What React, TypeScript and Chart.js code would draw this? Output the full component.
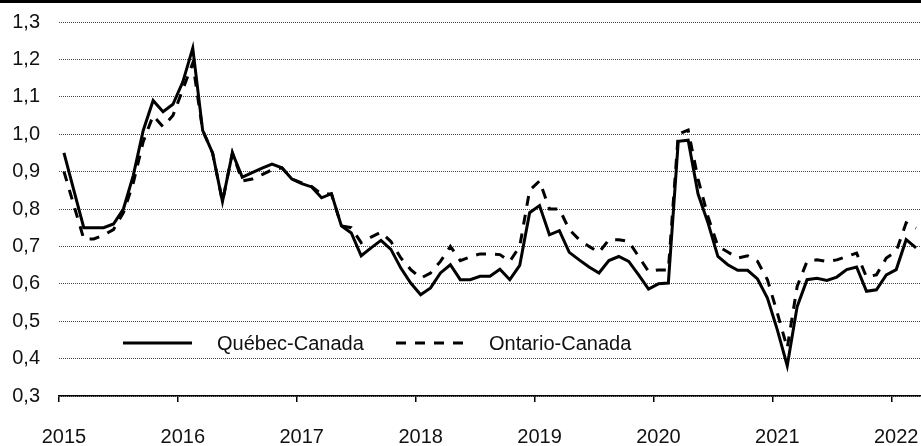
import { useEffect, useRef } from 'react';
import { Chart, registerables } from 'chart.js';

Chart.register(...registerables);

// Monthly values, January 2015 to March 2022
const quebecCanada = [
  0.95, 0.85, 0.75, 0.75, 0.75, 0.76, 0.80, 0.89, 1.01, 1.09, 1.06, 1.08,
  1.14, 1.23, 1.01, 0.95, 0.82, 0.95, 0.885, 0.897, 0.909, 0.92, 0.91, 0.88,
  0.868, 0.859, 0.83, 0.841, 0.755, 0.736, 0.675, 0.696, 0.716, 0.692, 0.642, 0.602,
  0.571, 0.589, 0.629, 0.651, 0.611, 0.611, 0.62, 0.62, 0.639, 0.611, 0.649, 0.79,
  0.809, 0.731, 0.742, 0.684, 0.664, 0.645, 0.629, 0.662, 0.673, 0.66, 0.624, 0.586,
  0.60, 0.602, 0.981, 0.984, 0.84, 0.763, 0.673, 0.651, 0.636, 0.636, 0.613, 0.562,
  0.477, 0.381, 0.539, 0.611, 0.615, 0.609, 0.618, 0.638, 0.645, 0.58, 0.584, 0.624,
  0.638, 0.718, 0.696,
];

const ontarioCanada = [
  0.90, 0.81, 0.72, 0.72, 0.73, 0.745, 0.79, 0.87, 0.98, 1.05, 1.02, 1.05,
  1.12, 1.19, 1.01, 0.95, 0.82, 0.95, 0.875, 0.88, 0.892, 0.905, 0.91, 0.88,
  0.87, 0.86, 0.84, 0.84, 0.755, 0.75, 0.71, 0.725, 0.738, 0.713, 0.669, 0.638,
  0.615, 0.629, 0.66, 0.70, 0.662, 0.672, 0.68, 0.68, 0.678, 0.66, 0.70, 0.85,
  0.875, 0.80, 0.80, 0.745, 0.718, 0.70, 0.684, 0.718, 0.718, 0.713, 0.673, 0.633,
  0.637, 0.637, 1.0, 1.011, 0.88, 0.78, 0.70, 0.685, 0.669, 0.675, 0.66, 0.611,
  0.522, 0.428, 0.593, 0.66, 0.664, 0.66, 0.664, 0.673, 0.682, 0.618, 0.624, 0.669,
  0.687, 0.763, 0.749,
];

const yearLabels = ['2015', '2016', '2017', '2018', '2019', '2020', '2021', '2022'];
const monthCodes = ['01', '02', '03', '04', '05', '06', '07', '08', '09', '10', '11', '12'];
const seriesNames = ['Québec-Canada', 'Ontario-Canada'];
const yMin = 0.3;
const yMax = 1.3;
const yStep = 0.1;

const categories = yearLabels
  .flatMap((y) => monthCodes.map((m) => `${y}-${m}`))
  .slice(0, quebecCanada.length);

const FONT = '"Liberation Sans", Arial, Helvetica, sans-serif';
const TEXT = '#111';

const inlineLegend = {
  id: 'inlineLegend',
  afterDraw(chart: any) {
    const { ctx, chartArea: a } = chart;
    const y = a.bottom - 53;
    const ds = chart.data.datasets;
    const items = [
      { x0: a.left + 64, x1: a.left + 133, tx: a.left + 158 },
      { x0: a.left + 337, x1: a.left + 404, tx: a.left + 430 },
    ];
    ctx.save();
    items.forEach((it, i) => {
      ctx.strokeStyle = ds[i].borderColor;
      ctx.lineWidth = ds[i].borderWidth;
      ctx.setLineDash(ds[i].borderDash || []);
      ctx.beginPath();
      ctx.moveTo(it.x0, y);
      ctx.lineTo(it.x1, y);
      ctx.stroke();
      ctx.setLineDash([]);
      ctx.fillStyle = TEXT;
      ctx.font = `20px ${FONT}`;
      ctx.textBaseline = 'middle';
      ctx.textAlign = 'left';
      ctx.fillText(ds[i].label, it.tx, y + 1);
    });
    // top rule
    ctx.fillStyle = '#000';
    ctx.fillRect(0, 0, chart.width, 3);
    ctx.restore();
  },
};

export default function App() {
  const ref = useRef<HTMLCanvasElement>(null);

  useEffect(() => {
    if (!ref.current) return;
    const chart = new Chart(ref.current, {
      type: 'line',
      data: {
        labels: categories,
        datasets: [
          {
            label: seriesNames[0],
            data: quebecCanada,
            borderColor: '#000',
            borderWidth: 3,
            pointRadius: 0,
            tension: 0,
            fill: false,
          },
          {
            label: seriesNames[1],
            data: ontarioCanada,
            borderColor: '#000',
            borderWidth: 3,
            borderDash: [10, 9],
            pointRadius: 0,
            tension: 0,
            fill: false,
          },
        ],
      },
      plugins: [inlineLegend],
      options: {
        responsive: false,
        animation: false,
        devicePixelRatio: 1,
        layout: { padding: { top: 22, right: 0, bottom: 0, left: 0 } },
        plugins: {
          legend: { display: false },
          tooltip: { enabled: false },
        },
        scales: {
          x: {
            type: 'category',
            offset: true,
            afterFit: (s: any) => {
              s.height = 50;
              s.paddingLeft = 0;
              s.paddingRight = 0;
            },
            border: { display: true, color: '#000', width: 1.5 },
            grid: {
              offset: true,
              drawOnChartArea: false,
              drawTicks: true,
              tickLength: 6,
              lineWidth: 1.5,
              color: (c: any) => (c.index % 12 === 0 ? '#000' : 'rgba(0,0,0,0)'),
            },
            ticks: {
              autoSkip: false,
              maxRotation: 0,
              minRotation: 0,
              padding: 23,
              color: TEXT,
              font: { family: FONT, size: 20 },
              callback: (_v: any, i: number) =>
                i % 12 === 0 ? categories[i].slice(0, 4) : '',
            },
          },
          y: {
            min: yMin,
            max: yMax,
            afterFit: (s: any) => {
              s.width = 59;
              s.paddingTop = 0;
              s.paddingBottom = 0;
            },
            border: { display: false, dash: [1, 1] },
            grid: {
              drawTicks: false,
              color: '#444',
              lineWidth: 1,
            },
            ticks: {
              stepSize: yStep,
              padding: 19,
              color: TEXT,
              font: { family: FONT, size: 20 },
              callback: (v: any) => Number(v).toFixed(1).replace('.', ','),
            },
          },
        },
      } as any,
    });
    return () => chart.destroy();
  }, []);

  return (
    <canvas
      ref={ref}
      width={921}
      height={446}
      style={{ position: 'fixed', top: 0, left: 0, display: 'block' }}
    />
  );
}
